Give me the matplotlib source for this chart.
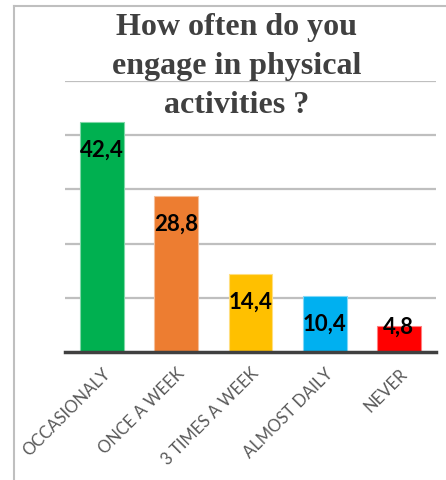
import matplotlib.pyplot as plt
from matplotlib.lines import Line2D

# Survey answers (percent)
categories = ["OCCASIONALY", "ONCE A WEEK", "3 TIMES A WEEK", "ALMOST DAILY", "NEVER"]
values = [42.4, 28.8, 14.4, 10.4, 4.8]
colors = ["#00B050", "#ED7D31", "#FFC000", "#00B0F0", "#FF0000"]
edges = ["#7FD7A7", "#F5BE98", "#FFDF80", "#7FD7F7", "#FF8080"]

W, H = 446, 481
fig = plt.figure(figsize=(W / 100, H / 100), dpi=100)
ax = fig.add_axes([65 / W, 1 - 353 / H, (436 - 65) / W, (353 - 82) / H])

x = range(len(categories))
ax.bar(x, values, width=0.59, color=colors, edgecolor=edges, linewidth=0.8, zorder=3)

# value labels, inside the top of each bar
for xi, v in zip(x, values):
    off = -19.5 if v > 8 else 0
    ax.annotate(f"{v:.1f}".replace(".", ","), (xi, v), xytext=(0, off),
                textcoords="offset points", ha="center", va="center",
                fontsize=16, fontweight="bold", family="Lato", color="black", zorder=4)

ax.set_xlim(-0.5, len(categories) - 0.5)
ax.set_ylim(0, 50)
ax.set_yticks([10, 20, 30, 40, 50])
ax.yaxis.grid(True, color="#BFBFBF", linewidth=1.6, zorder=0)
ax.tick_params(axis="y", left=False, labelleft=False)
ax.tick_params(axis="x", length=0, pad=9)
ax.set_xticks(list(x))
ax.set_xticklabels(categories, rotation=45, ha="right", rotation_mode="anchor",
                   fontsize=12, family="Lato", color="#595959")
for s in ["top", "right", "left"]:
    ax.spines[s].set_visible(False)
ax.spines["bottom"].set_color("#404040")
ax.spines["bottom"].set_linewidth(2.5)
ax.spines["bottom"].set_zorder(5)

# title
fig.text(237 / W, 1 - 13 / H, "How often do you\nengage in physical\nactivities ?",
         ha="center", va="top", fontsize=23, fontweight="bold",
         family="Liberation Serif", color="#404040", linespacing=1.45)

# chart frame (partly cropped)
fig.add_artist(Line2D([14 / W, 14 / W], [0, 1 - 7 / H], color="#BFBFBF", linewidth=1.5))
fig.add_artist(Line2D([14 / W, 1], [1 - 7 / H, 1 - 7 / H], color="#BFBFBF", linewidth=1.5))

fig.savefig("out.png", dpi=100)
